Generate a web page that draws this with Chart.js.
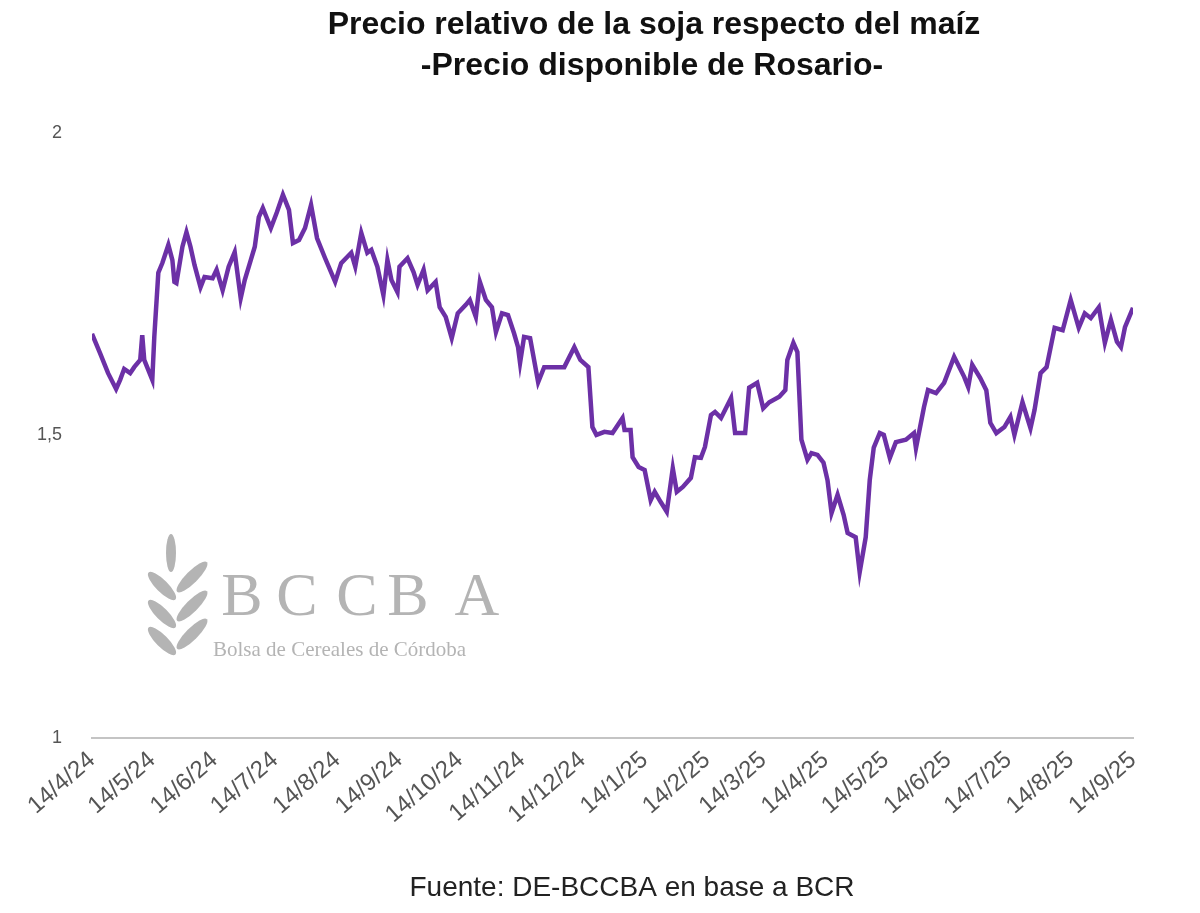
<!DOCTYPE html>
<html lang="es">
<head>
  <meta charset="UTF-8" />
  <title>Precio relativo de la soja respecto del maíz</title>
  <script src="https://cdn.jsdelivr.net/npm/chart.js"></script>
  <style>
    body { margin: 0; background: #fff; }
    canvas { display: block; }
  </style>
</head>
<body>
  <canvas id="chart" width="1200" height="913"></canvas>
  <script>
    // dias desde el 14/4/24 y relacion soja/maiz
    const days = [0, 4, 8, 12, 14, 16, 19, 21, 24, 25, 26, 30, 31, 33, 35, 38, 40, 41, 42, 45,
      47, 49, 51, 54, 56, 60, 62, 65, 68, 71, 74, 76, 79, 81, 83, 85, 89, 92, 95, 98,
      100, 103, 106, 109, 112, 116, 121, 124, 129, 131, 134, 137, 139, 142, 145, 147, 149, 152, 153, 157,
      160, 162, 165, 167, 171, 173, 176, 179, 182, 186, 188, 191, 193, 196, 199, 201, 204, 207, 210, 212,
      213, 215, 218, 222, 225, 230, 235, 240, 243, 247, 249, 251, 255, 259, 264, 265, 268, 269, 272, 275,
      278, 280, 283, 286, 289, 291, 294, 298, 300, 303, 305, 308, 310, 313, 318, 320, 325, 327, 331, 334,
      337, 342, 345, 346, 349, 351, 353, 356, 358, 361, 364, 366, 368, 371, 374, 376, 380, 382, 385, 387,
      389, 392, 394, 397, 400, 405, 409, 410, 414, 416, 420, 424, 429, 434, 436, 438, 442, 445, 447, 450,
      454, 457, 459, 463, 467, 469, 472, 475, 479, 483, 487, 491, 494, 497, 501, 504, 507, 510, 512, 514, 518];
    const ratio = [1.668, 1.636, 1.603, 1.577, 1.592, 1.610, 1.603, 1.613, 1.625, 1.666, 1.625, 1.592, 1.663, 1.769, 1.785, 1.815, 1.790, 1.754, 1.752, 1.812,
      1.836, 1.812, 1.782, 1.745, 1.762, 1.760, 1.774, 1.740, 1.779, 1.803, 1.727, 1.757, 1.790, 1.812, 1.861, 1.876, 1.843, 1.869, 1.898, 1.873,
      1.818, 1.823, 1.843, 1.881, 1.826, 1.793, 1.754, 1.785, 1.802, 1.779, 1.835, 1.802, 1.807, 1.779, 1.732, 1.790, 1.757, 1.737, 1.779, 1.793,
      1.770, 1.749, 1.774, 1.740, 1.754, 1.712, 1.696, 1.661, 1.702, 1.716, 1.724, 1.696, 1.754, 1.724, 1.712, 1.671, 1.702, 1.699, 1.669, 1.646,
      1.620, 1.663, 1.661, 1.588, 1.613, 1.613, 1.613, 1.646, 1.625, 1.613, 1.514, 1.501, 1.506, 1.504, 1.529, 1.509, 1.509, 1.464, 1.448, 1.443,
      1.393, 1.407, 1.390, 1.374, 1.446, 1.407, 1.415, 1.430, 1.464, 1.463, 1.481, 1.534, 1.539, 1.529, 1.562, 1.504, 1.504, 1.579, 1.587, 1.545,
      1.555, 1.564, 1.575, 1.625, 1.653, 1.638, 1.493, 1.460, 1.471, 1.468, 1.455, 1.426, 1.372, 1.402, 1.369, 1.339, 1.332, 1.274, 1.332, 1.426,
      1.480, 1.504, 1.501, 1.463, 1.489, 1.493, 1.504, 1.479, 1.547, 1.575, 1.570, 1.587, 1.630, 1.597, 1.580, 1.617, 1.595, 1.575, 1.521, 1.504,
      1.514, 1.531, 1.501, 1.555, 1.512, 1.542, 1.603, 1.613, 1.678, 1.674, 1.724, 1.678, 1.702, 1.694, 1.712, 1.653, 1.691, 1.655, 1.646, 1.679, 1.711];

    const monthTicks = [0, 30, 61, 91, 122, 153, 183, 214, 244, 275, 306, 334, 365, 395, 426, 456, 487, 518];
    const monthLabels = ['14/4/24', '14/5/24', '14/6/24', '14/7/24', '14/8/24', '14/9/24', '14/10/24', '14/11/24', '14/12/24',
      '14/1/25', '14/2/25', '14/3/25', '14/4/25', '14/5/25', '14/6/25', '14/7/25', '14/8/25', '14/9/25'];

    const titleLines = ['Precio relativo de la soja respecto del maíz', '-Precio disponible de Rosario-'];
    const sourceText = 'Fuente: DE-BCCBA en base a BCR';

    // titulo, fuente y marca de agua
    const decor = {
      id: 'decor',
      beforeDraw(chart) {
        const ctx = chart.ctx;
        ctx.save();
        ctx.fillStyle = '#fff';
        ctx.fillRect(0, 0, chart.width, chart.height);
        ctx.restore();
      },
      beforeDatasetsDraw(chart) {
        const ctx = chart.ctx;
        ctx.save();
        ctx.fillStyle = '#b4b4b4';
        // espiga
        ctx.beginPath();
        ctx.ellipse(171, 553, 5, 19, 0, 0, Math.PI * 2);
        ctx.fill();
        [586, 614, 641].forEach(y => {
          ctx.beginPath();
          ctx.ellipse(162, y, 19, 6, Math.PI / 4, 0, Math.PI * 2);
          ctx.fill();
        });
        [577, 606, 634].forEach(y => {
          ctx.beginPath();
          ctx.ellipse(192, y, 21, 6, -Math.PI / 4, 0, Math.PI * 2);
          ctx.fill();
        });
        ctx.font = '62px "Liberation Serif"';
        ctx.textAlign = 'center';
        ctx.textBaseline = 'alphabetic';
        ['B', 'C', 'C', 'B', 'A'].forEach((c, i) => {
          ctx.fillText(c, [242, 297, 357, 408, 477][i], 615);
        });
        ctx.font = '21px "Liberation Serif"';
        ctx.textAlign = 'left';
        ctx.fillText('Bolsa de Cereales de Córdoba', 213, 656, 292);
        ctx.restore();
      },
      afterDraw(chart) {
        const ctx = chart.ctx;
        ctx.save();
        ctx.fillStyle = '#111';
        ctx.textAlign = 'center';
        ctx.textBaseline = 'alphabetic';
        ctx.font = 'bold 32px "Liberation Sans"';
        ctx.fillText(titleLines[0], 654, 34, 662);
        ctx.fillText(titleLines[1], 652, 75, 465);
        ctx.fillStyle = '#222';
        ctx.font = '28px "Liberation Sans"';
        ctx.fillText(sourceText, 632, 896, 455);
        ctx.restore();
      }
    };

    new Chart(document.getElementById('chart').getContext('2d'), {
      type: 'line',
      data: {
        datasets: [{
          data: days.map((d, i) => ({ x: d, y: ratio[i] })),
          borderColor: '#6c30a6',
          borderWidth: 4.5,
          pointRadius: 0,
          tension: 0
        }]
      },
      options: {
        responsive: false,
        animation: false,
        layout: { padding: { top: 133, right: 67, left: 0, bottom: 0 } },
        plugins: { legend: { display: false }, tooltip: { enabled: false } },
        scales: {
          x: {
            type: 'linear',
            min: 0,
            max: 518,
            afterBuildTicks: s => { s.ticks = monthTicks.map(v => ({ value: v })); },
            afterFit: s => { s.height = 175; },
            grid: { display: false, drawTicks: false },
            border: { display: true, color: '#c4c4c4', width: 2 },
            ticks: {
              autoSkip: false,
              minRotation: 41,
              maxRotation: 41,
              padding: 8,
              color: '#555',
              font: { size: 24, family: 'Liberation Sans' },
              callback: (v, i) => monthLabels[i]
            }
          },
          y: {
            min: 1,
            max: 2,
            afterFit: s => { s.width = 92; },
            grid: { display: false, drawTicks: false },
            border: { display: false },
            ticks: {
              stepSize: 0.5,
              padding: 30,
              color: '#555',
              font: { size: 18, family: 'Liberation Sans' },
              callback: v => String(v).replace('.', ',')
            }
          }
        }
      },
      plugins: [decor]
    });
  </script>
</body>
</html>
